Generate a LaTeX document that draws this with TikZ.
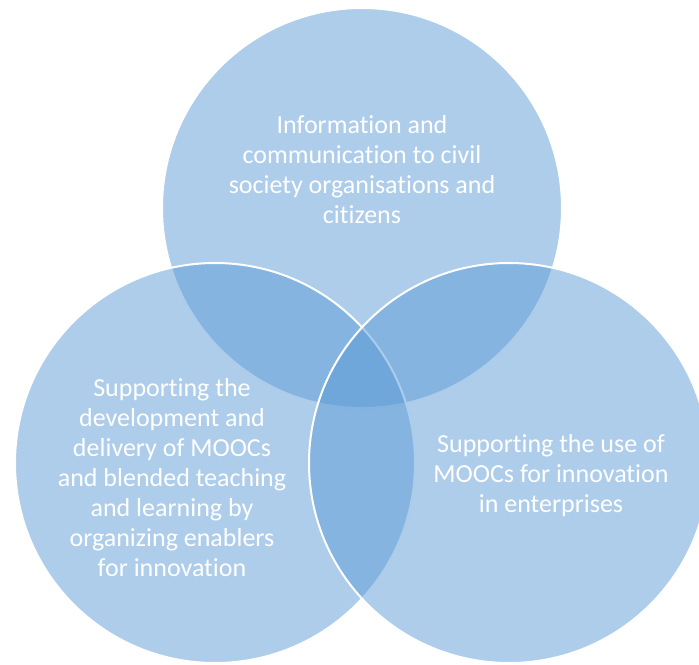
\documentclass[tikz,border=0pt]{standalone}
\usepackage{fontspec}
\setmainfont{Carlito}[Ligatures=NoCommon]
\usepackage{xcolor}
\definecolor{vennblue}{HTML}{5B9BD5}

\tikzset{
  venn/.style={draw=white, line width=1.5pt, fill=vennblue, fill opacity=0.5},
  venntext/.style={text=white, align=center, font=\fontsize{19.5}{22.5}\selectfont}
}

\begin{document}
\begin{tikzpicture}[x=0.75pt, y=-0.75pt]
  \useasboundingbox (0, 0) rectangle (699, 664);
  \clip (0, 0) rectangle (699, 664);

  % Circles (top, left, right)
  \draw[venn] (362, 208) circle[radius=150pt];
  \draw[venn] (215, 463) circle[radius=150pt];
  \draw[venn] (509, 463) circle[radius=150pt];

  % Labels
  \node[venntext] (civil) at (362, 170)
    {Information and\\communication to civil\\society organisations and\\citizens};
  \node[venntext] (moocs) at (172, 478)
    {Supporting the\\development and\\delivery of MOOCs\\and blended teaching\\and learning by\\organizing enablers\\for innovation};
  \node[venntext] (enterprises) at (551, 476)
    {Supporting the use of\\MOOCs for innovation\\in enterprises};
\end{tikzpicture}
\end{document}
